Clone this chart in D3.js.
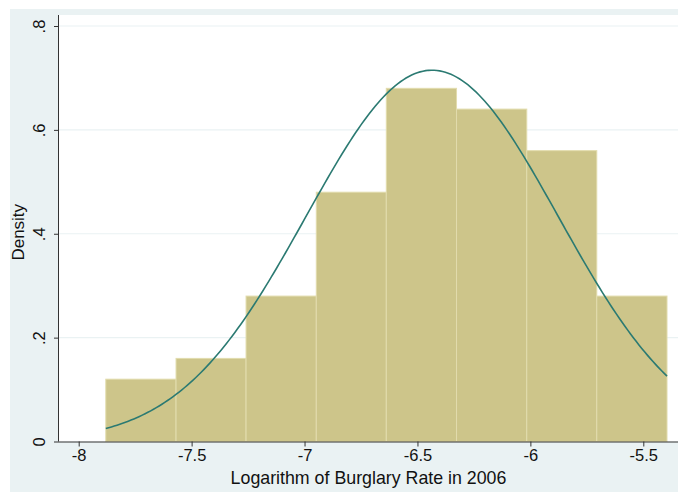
<!DOCTYPE html>
<html><head><meta charset="utf-8">
<script src="https://cdn.jsdelivr.net/npm/d3@7"></script>
<style>
html,body{margin:0;padding:0;background:#fff;}
svg{display:block;font-family:"Liberation Sans",Arial,Helvetica,sans-serif;}
</style></head>
<body>
<svg id="chart" width="678" height="492"></svg>
<script>
// data
const binEdges = [-7.880, -7.569, -7.259, -6.948, -6.638, -6.327, -6.016, -5.706, -5.395];
const densities = [0.12, 0.16, 0.28, 0.48, 0.68, 0.64, 0.56, 0.28];
const normalMean = -6.435;
const normalSD = 0.558;
const xTicks = [-8, -7.5, -7, -6.5, -6, -5.5];
const xTickLabels = ["-8", "-7.5", "-7", "-6.5", "-6", "-5.5"];
const yTicks = [0, 0.2, 0.4, 0.6, 0.8];
const yTickLabels = ["0", ".2", ".4", ".6", ".8"];
const xTitle = "Logarithm of Burglary Rate in 2006";
const yTitle = "Density";

const svg = d3.select("#chart");
const W = 678, H = 492;
const plot = {left: 59, right: 678, top: 15, bottom: 441.5};

svg.append("rect").attr("x", 10).attr("y", 9).attr("width", W - 10).attr("height", H - 9).attr("fill", "#eaf2f3");
svg.append("rect").attr("x", plot.left).attr("y", plot.top).attr("width", plot.right - plot.left).attr("height", plot.bottom - plot.top).attr("fill", "#ffffff");

const x = d3.scaleLinear().domain([-8, -5.5]).range([78.7, 643.3]);
const y = d3.scaleLinear().domain([0, 0.8]).range([plot.bottom, 26]);

// gridlines
svg.append("g").selectAll("line").data(yTicks.filter(d => d > 0)).join("line")
  .attr("x1", plot.left).attr("x2", plot.right)
  .attr("y1", d => y(d)).attr("y2", d => y(d))
  .attr("stroke", "#eaf2f3").attr("stroke-width", 1.2);

// bars
const bins = densities.map((d, i) => ({x0: binEdges[i], x1: binEdges[i + 1], d}));
svg.append("g").selectAll("rect").data(bins).join("rect")
  .attr("x", b => x(b.x0)).attr("width", b => x(b.x1) - x(b.x0))
  .attr("y", b => y(b.d)).attr("height", b => y(0) - y(b.d))
  .attr("fill", "#cdc58a").attr("stroke", "#e2dcad").attr("stroke-width", 1);

// normal curve
const n = 200;
const pts = d3.range(n + 1).map(i => {
  const xv = binEdges[0] + (binEdges[binEdges.length - 1] - binEdges[0]) * i / n;
  const z = (xv - normalMean) / normalSD;
  return [xv, Math.exp(-0.5 * z * z) / (normalSD * Math.sqrt(2 * Math.PI))];
});
svg.append("path").datum(pts)
  .attr("d", d3.line().x(p => x(p[0])).y(p => y(p[1])))
  .attr("fill", "none").attr("stroke", "#2b7a72").attr("stroke-width", 1.6);

// axes
const xAxis = d3.axisBottom(x).tickValues(xTicks).tickFormat((d, i) => xTickLabels[i]).tickSize(5).tickSizeOuter(0).tickPadding(3);
const gx = svg.append("g").attr("transform", `translate(0,${plot.bottom})`).call(xAxis);
gx.select(".domain").attr("d", `M${plot.left},0.5H${plot.right}`).attr("stroke", "#333");
gx.selectAll(".tick line").attr("stroke", "#333");
gx.selectAll(".tick text").attr("font-size", 16.5).attr("fill", "#111")
  .attr("font-family", "'Liberation Sans', Arial, sans-serif");

const yAxis = d3.axisLeft(y).tickValues(yTicks).tickFormat((d, i) => yTickLabels[i]).tickSize(5).tickSizeOuter(0);
const gy = svg.append("g").attr("transform", `translate(${plot.left},0)`).call(yAxis);
gy.select(".domain").attr("d", `M-0.5,${plot.top}V${plot.bottom}`).attr("stroke", "#333");
gy.selectAll(".tick line").attr("stroke", "#333");
gy.selectAll(".tick text")
  .attr("x", null).attr("dy", null)
  .attr("transform", "translate(-14,0) rotate(-90)")
  .attr("text-anchor", "middle").attr("font-size", 16.5).attr("fill", "#111")
  .attr("font-family", "'Liberation Sans', Arial, sans-serif");

// titles
svg.append("text").attr("x", (plot.left + plot.right) / 2).attr("y", 484)
  .attr("text-anchor", "middle").attr("font-size", 17.8).attr("fill", "#111").text(xTitle);
svg.append("text").attr("transform", `translate(24,${(plot.top + plot.bottom) / 2 + 4}) rotate(-90)`)
  .attr("text-anchor", "middle").attr("font-size", 17).attr("fill", "#111").text(yTitle);
</script>
</body></html>
